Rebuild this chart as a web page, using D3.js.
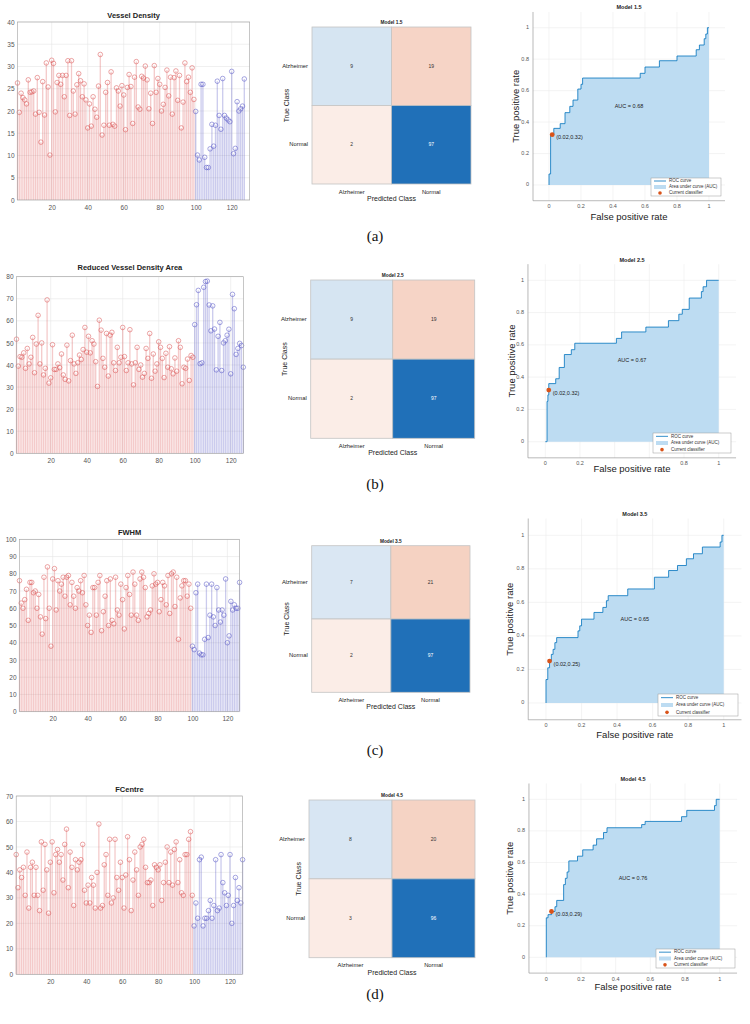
<!DOCTYPE html>
<html>
<head>
<meta charset="utf-8">
<script src="https://cdn.jsdelivr.net/npm/d3@7"></script>
<style>
  body { margin: 0; background: #fff; }
  svg { display: block; font-family: "Liberation Sans", Arial, sans-serif; }
</style>
</head>
<body>
<svg id="fig" width="750" height="1024"></svg>
<script>
    // ---- data ----
    const stemTitles = ["Vessel Density", "Reduced Vessel Density Area", "FWHM", "FCentre"];
    const modelTitles = ["Model 1.5", "Model 2.5", "Model 3.5", "Model 4.5"];
    const captions = ["(a)", "(b)", "(c)", "(d)"];
    const classNames = ["Alzheimer", "Normal"];
    const firstAlzIndex = 100;   // samples 1..99 normal (red), 100..127 Alzheimer (blue)
    const stemXTicks = [20, 40, 60, 80, 100, 120];
    const stemYMax = [40, 80, 100, 70];
    const stemYStep = [5, 10, 10, 10];
    const rocTicks = [0, 0.2, 0.4, 0.6, 0.8, 1];

    const vesselDensity = [
        26.3, 19.7, 24, 23, 22.5, 21.6, 27, 24.2, 24.3, 24.5, 19.3, 27.5, 19.7, 13, 26.6, 19.1, 30.8, 25.4, 10.1, 31.4,
        30.7, 19.8, 26.4, 28, 26, 28, 23.2, 28, 31.3, 19, 31.3, 24.5, 19.3, 25.9, 28.4, 26.8, 23.2, 26.1, 22.5, 16.2,
        21.6, 16.6, 23.2, 20.4, 18.6, 25.6, 32.7, 14.6, 16.8, 24.2, 26.4, 16.8, 28.8, 17, 16.6, 25.2, 24.5, 21.1, 25.7, 23.6,
        15.8, 25.3, 28.2, 25.5, 17.2, 27.6, 31.1, 20.9, 20.4, 27.8, 27.4, 30.1, 27, 20.5, 24, 17.2, 30.2, 24.2, 27.3, 26,
        20, 21.5, 25.3, 29.2, 23.4, 27.6, 19.3, 27.5, 29, 22.4, 28, 16.2, 22, 30.8, 26.6, 27.6, 24.2, 29.7, 22.6,
        19.9, 10.1, 9, 26, 26, 9.6, 7.3, 7.3, 11.5, 17, 12.1, 16.8, 26.7, 19, 15.9, 27.3, 19, 18.4, 18, 17.6,
        28.9, 10.4, 11.6, 22.1, 20, 20.5, 21.1, 27.2
    ];
    const reducedArea = [
        51.7, 39.5, 43.8, 43.5, 45.5, 38.5, 47.5, 40.5, 43.5, 52.5, 36.5, 49.5, 62.5, 40.5, 50, 35.5, 38.5, 69.5, 31.8, 34.2,
        49.2, 38, 38, 40.5, 38.8, 45, 35.5, 33.5, 49, 32.8, 42, 53.5, 40.5, 36.2, 41, 44.5, 42.5, 47, 57, 45.8,
        53, 45.5, 51, 49.5, 41.5, 30.3, 60.3, 55.8, 43, 39, 54.3, 35, 53.5, 54.8, 41, 37.5, 48, 41, 43.5, 57,
        43.8, 37.5, 41, 56, 40.5, 31, 41, 48, 38, 40, 34.5, 36.2, 47.5, 43, 54.3, 34, 45, 37.2, 40.5, 50.5,
        48, 43, 34.3, 45.3, 39, 48.3, 38.3, 36, 43.2, 37.2, 51, 48, 31.5, 39, 38.5, 42.7, 33, 44.3, 43.5,
        58.3, 67.3, 73.8, 40.6, 41, 75.2, 77.8, 78, 67.2, 55.5, 66.8, 56.3, 37.8, 53, 59.3, 37.5, 50, 51, 53.5, 56.2,
        36, 72, 65.5, 44.8, 47.5, 49.8, 48.8, 39
    ];
    const fwhm = [
        76, 63, 60, 65, 71, 53, 75, 75, 69, 70, 60, 68, 55, 45, 78, 54, 84, 60, 38, 77,
        83, 59, 76, 70, 74, 78, 67, 78, 79, 62, 75, 67, 60, 72, 70, 76, 69, 79, 62, 50,
        56, 46, 72, 72, 56, 75, 79, 47, 58, 67, 76, 50, 77, 53, 51, 78, 59, 56, 74, 65,
        48, 72, 79, 68, 56, 81, 74, 56, 53, 77, 81, 78, 72, 55, 57, 59, 73, 80, 74, 75,
        58, 65, 75, 73, 62, 79, 57, 80, 81, 61, 78, 42, 66, 73, 76, 76, 67, 74, 60,
        38, 36, 69, 74, 34, 33, 33, 42, 74, 43, 56, 74, 55, 50, 72, 59, 52, 59, 56, 77,
        40, 44, 64, 59, 62, 60, 60, 75
    ];
    const fcentre = [
        47, 34, 41, 38, 42, 31, 48, 26, 42, 44, 31, 42, 31, 25, 52, 33, 51, 41, 24, 44,
        52, 32, 47, 49, 44, 47, 37, 51, 57, 34, 48, 42, 27, 45, 41, 44, 45, 51, 33, 28,
        35, 28, 38, 35, 26, 40, 59, 26, 27, 43, 47, 31, 53, 28, 30, 53, 38, 33, 44, 38,
        26, 39, 54, 45, 25, 37, 48, 41, 31, 50, 51, 53, 42, 36, 36, 37, 27, 43, 42, 41,
        43, 29, 36, 44, 50, 36, 48, 35, 49, 52, 36, 45, 32, 31, 47, 47, 53, 56, 31,
        19, 28, 22, 45, 46, 19, 22, 22, 25, 29, 22, 27, 45, 25, 26, 47, 36, 32, 27, 31,
        47, 20, 27, 38, 29, 34, 28, 45
    ];
    const stemSeries = [vesselDensity, reducedArea, fwhm, fcentre];

    // confusion matrices: rows = true class, cols = predicted class
    const confA = [[9, 19], [2, 97]];
    const confB = [[9, 19], [2, 97]];
    const confC = [[7, 21], [2, 97]];
    const confD = [[8, 20], [3, 96]];
    const confusions = [confA, confB, confC, confD];

    // ROC staircases [fpr, tpr]
    const rocA = [[0,0],[0,0.07],[0.01,0.07],[0.01,0.32],[0.03,0.32],[0.03,0.36],[0.07,0.36],[0.07,0.39],[0.10,0.39],[0.10,0.46],
        [0.13,0.46],[0.13,0.50],[0.15,0.50],[0.15,0.54],[0.18,0.54],[0.18,0.61],[0.20,0.61],[0.20,0.64],[0.21,0.64],[0.21,0.68],
        [0.57,0.68],[0.57,0.71],[0.60,0.71],[0.60,0.75],[0.69,0.75],[0.69,0.79],[0.80,0.79],[0.80,0.82],[0.92,0.82],[0.92,0.86],
        [0.94,0.86],[0.94,0.89],[0.97,0.89],[0.97,0.93],[0.98,0.93],[0.98,0.96],[0.99,0.96],[0.99,1],[1,1]];
    const rocB = [[0,0],[0.01,0],[0.01,0.25],[0.015,0.25],[0.015,0.29],[0.02,0.29],[0.02,0.36],[0.06,0.36],[0.06,0.39],[0.08,0.39],
        [0.08,0.46],[0.11,0.46],[0.11,0.54],[0.15,0.54],[0.15,0.57],[0.17,0.57],[0.17,0.61],[0.41,0.61],[0.41,0.64],[0.44,0.64],
        [0.44,0.68],[0.58,0.68],[0.58,0.71],[0.71,0.71],[0.71,0.75],[0.77,0.75],[0.77,0.79],[0.79,0.79],[0.79,0.82],[0.83,0.82],
        [0.83,0.89],[0.90,0.89],[0.90,0.93],[0.91,0.93],[0.91,0.96],[0.93,0.96],[0.93,1],[1,1]];
    const rocC = [[0,0],[0,0.14],[0.01,0.14],[0.01,0.21],[0.02,0.21],[0.02,0.25],[0.03,0.25],[0.03,0.29],[0.04,0.29],[0.04,0.32],
        [0.05,0.32],[0.05,0.36],[0.06,0.36],[0.06,0.39],[0.18,0.39],[0.18,0.43],[0.19,0.43],[0.19,0.46],[0.2,0.46],[0.2,0.5],
        [0.27,0.5],[0.27,0.54],[0.32,0.54],[0.32,0.57],[0.34,0.57],[0.34,0.61],[0.35,0.61],[0.35,0.64],[0.46,0.64],[0.46,0.68],
        [0.61,0.68],[0.61,0.75],[0.69,0.75],[0.69,0.79],[0.74,0.79],[0.74,0.82],[0.79,0.82],[0.79,0.86],[0.83,0.86],[0.83,0.89],
        [0.88,0.89],[0.88,0.93],[0.98,0.93],[0.98,0.96],[0.99,0.96],[0.99,1],[1,1]];
    const rocD = [[0,0],[0,0.25],[0.01,0.25],[0.01,0.27],[0.03,0.27],[0.03,0.29],[0.05,0.29],[0.05,0.32],[0.06,0.32],[0.06,0.36],
        [0.10,0.36],[0.10,0.46],[0.11,0.46],[0.11,0.5],[0.12,0.5],[0.12,0.54],[0.13,0.54],[0.13,0.61],[0.18,0.61],[0.18,0.64],
        [0.21,0.64],[0.21,0.68],[0.27,0.68],[0.27,0.71],[0.29,0.71],[0.29,0.75],[0.33,0.75],[0.33,0.79],[0.35,0.79],[0.35,0.82],
        [0.55,0.82],[0.55,0.84],[0.57,0.84],[0.57,0.86],[0.78,0.86],[0.78,0.89],[0.81,0.89],[0.81,0.93],[0.97,0.93],[0.97,0.96],
        [0.98,0.96],[0.98,1],[1,1]];
    const rocCurves = [rocA, rocB, rocC, rocD];
    const aucValues = [0.68, 0.67, 0.65, 0.76];
    const operatingPoints = [[0.02, 0.32], [0.02, 0.32], [0.02, 0.25], [0.03, 0.29]];

    // ---- layout (pixel positions of each panel) ----
    const stemLayout = [
        { xDom: [1, 130], xr: [17.5, 249.7], yr: [200, 22], titleY: 16 },
        { xDom: [1, 127], xr: [16.5, 243.3], yr: [453.3, 276.7], titleY: 268 },
        { xDom: [1, 127], xr: [19.5, 239.6], yr: [711.7, 539.3], titleY: 533 },
        { xDom: [1, 127], xr: [16.2, 242.6], yr: [974.3, 796], titleY: 790 }
    ];
    const confLayout = [
        { x: 312, y: 27, w: 159, h: 157, tcX: 287 },
        { x: 310.7, y: 280, w: 164, h: 158.3, tcX: 285 },
        { x: 311.7, y: 545.7, w: 158.3, h: 146.6, tcX: 287 },
        { x: 309, y: 800, w: 166, h: 157.7, tcX: 299 }
    ];
    // in panel (b) the x-axis label sits on top of the 0.4 / 0.6 tick labels, which are hidden there
    const rocLayout = [
        { x0: 549, x1: 709, y0: 185, y1: 27.7, titleY: 8, xlabY: 217, ylabX: 516, leg: [651, 178, 70, 18], hide: [] },
        { x0: 545.3, x1: 718.7, y0: 441.7, y1: 280.3, titleY: 261, xlabY: 469, ylabX: 512, leg: [653, 433, 78, 20], hide: [0.4, 0.6] },
        { x0: 546, x1: 723.7, y0: 703, y1: 535.3, titleY: 515, xlabY: 735, ylabX: 510, leg: [658, 694, 80, 22], hide: [] },
        { x0: 546.3, x1: 719.7, y0: 957.3, y1: 799.3, titleY: 780, xlabY: 987, ylabX: 510, leg: [656, 949, 79, 19], hide: [] }
    ];
    const captionY = [238, 486, 752, 996];

    const svg = d3.select("#fig");
    const normalColor = "#d9504f", alzColor = "#5252c4";
    const rocBlue = "#0072bd";

    // ---- stem plots ----
    function stemPlot(values, title, yMax, yStep, L) {
        const g = svg.append("g");
        const x = d3.scaleLinear().domain(L.xDom).range(L.xr);
        const y = d3.scaleLinear().domain([0, yMax]).range(L.yr);
        const yTicks = d3.range(0, yMax + 0.001, yStep);

        // grid
        g.append("g").selectAll("line").data(stemXTicks).join("line")
            .attr("x1", d => x(d)).attr("x2", d => x(d))
            .attr("y1", L.yr[0]).attr("y2", L.yr[1])
            .attr("stroke", "#e6e6e6").attr("stroke-width", 0.6);
        g.append("g").selectAll("line").data(yTicks).join("line")
            .attr("x1", L.xr[0]).attr("x2", L.xr[1])
            .attr("y1", d => y(d)).attr("y2", d => y(d))
            .attr("stroke", "#e6e6e6").attr("stroke-width", 0.6);

        const pts = values.map((v, i) => ({ i: i + 1, v }));
        const col = d => d.i >= firstAlzIndex ? alzColor : normalColor;

        g.append("g").selectAll("line").data(pts).join("line")
            .attr("x1", d => x(d.i)).attr("x2", d => x(d.i))
            .attr("y1", y(0)).attr("y2", d => y(d.v))
            .attr("stroke", col).attr("stroke-opacity", 0.3).attr("stroke-width", 1.3);
        g.append("g").selectAll("circle").data(pts).join("circle")
            .attr("cx", d => x(d.i)).attr("cy", d => y(d.v)).attr("r", 2.3)
            .attr("fill", "none").attr("stroke", col).attr("stroke-opacity", 0.85).attr("stroke-width", 0.6);

        // box
        g.append("rect")
            .attr("x", L.xr[0]).attr("y", L.yr[1])
            .attr("width", L.xr[1] - L.xr[0]).attr("height", L.yr[0] - L.yr[1])
            .attr("fill", "none").attr("stroke", "#a0a0a0").attr("stroke-width", 0.6);

        const ya = g.append("g").attr("transform", `translate(${L.xr[0]},0)`)
            .call(d3.axisLeft(y).tickValues(yTicks).tickSize(0).tickPadding(3));
        const xa = g.append("g").attr("transform", `translate(0,${L.yr[0]})`)
            .call(d3.axisBottom(x).tickValues(stemXTicks).tickSize(0).tickPadding(5));
        [ya, xa].forEach(a => {
            a.select(".domain").remove();
            a.selectAll("text").attr("font-size", 6.5).attr("fill", "#555").attr("font-family", "Liberation Sans, Arial, sans-serif");
        });

        g.append("text")
            .attr("x", (L.xr[0] + L.xr[1]) / 2).attr("y", L.titleY)
            .attr("text-anchor", "middle").attr("dominant-baseline", "middle")
            .attr("font-size", 7.5).attr("font-weight", "bold").attr("fill", "#222")
            .text(title);
    }

    // ---- confusion charts ----
    function confusionChart(m, title, L) {
        const g = svg.append("g");
        const x = d3.scaleBand().domain(classNames).range([L.x, L.x + L.w]);
        const y = d3.scaleBand().domain(classNames).range([L.y, L.y + L.h]);
        const maxV = d3.max(m.flat());
        const cells = [];
        classNames.forEach((t, r) => classNames.forEach((p, c) => cells.push({ t, p, v: m[r][c], diag: r === c })));
        const shade = d => {
            const k = 0.1 + 0.9 * d.v / maxV;
            return d.diag ? d3.interpolateRgb("#ffffff", "#2070b8")(k) : d3.interpolateRgb("#ffffff", "#d9541a")(k * 0.9);
        };

        g.selectAll("rect.cell").data(cells).join("rect")
            .attr("x", d => x(d.p)).attr("y", d => y(d.t))
            .attr("width", x.bandwidth()).attr("height", y.bandwidth())
            .attr("fill", shade).attr("stroke", "#c4c4c4").attr("stroke-width", 0.8);
        g.selectAll("text.val").data(cells).join("text")
            .attr("x", d => x(d.p) + x.bandwidth() / 2).attr("y", d => y(d.t) + y.bandwidth() / 2)
            .attr("text-anchor", "middle").attr("dominant-baseline", "middle")
            .attr("font-size", 5).attr("fill", d => d.v / maxV > 0.5 ? "#fff" : "#333")
            .text(d => d.v);

        g.selectAll("text.rl").data(classNames).join("text")
            .attr("x", L.x - 4).attr("y", d => y(d) + y.bandwidth() / 2)
            .attr("text-anchor", "end").attr("dominant-baseline", "middle")
            .attr("font-size", 5.8).attr("fill", "#222").text(d => d);
        g.selectAll("text.cl").data(classNames).join("text")
            .attr("x", d => x(d) + x.bandwidth() / 2).attr("y", L.y + L.h + 8)
            .attr("text-anchor", "middle").attr("dominant-baseline", "middle")
            .attr("font-size", 5.8).attr("fill", "#222").text(d => d);

        g.append("text")
            .attr("x", L.x + L.w / 2).attr("y", L.y + L.h + 15)
            .attr("text-anchor", "middle").attr("dominant-baseline", "middle")
            .attr("font-size", 7).attr("fill", "#222").text("Predicted Class");
        g.append("text")
            .attr("transform", `translate(${L.tcX},${L.y + L.h / 2}) rotate(-90)`)
            .attr("text-anchor", "middle").attr("dominant-baseline", "middle")
            .attr("font-size", 7).attr("fill", "#222").text("True Class");
        g.append("text")
            .attr("x", L.x + L.w / 2).attr("y", L.y - 3)
            .attr("text-anchor", "middle")
            .attr("font-size", 4.8).attr("font-weight", "bold").attr("fill", "#222").text(title);
    }

    // ---- ROC curves ----
    function rocPlot(pts, auc, op, title, L) {
        const g = svg.append("g");
        const x = d3.scaleLinear().domain([0, 1]).range([L.x0, L.x1]);
        const y = d3.scaleLinear().domain([0, 1]).range([L.y0, L.y1]);
        const bx0 = x(-0.1), bx1 = x(1.1), by0 = y(-0.1), by1 = y(1.1);

        g.append("g").selectAll("line").data(rocTicks).join("line")
            .attr("x1", d => x(d)).attr("x2", d => x(d)).attr("y1", by0).attr("y2", by1)
            .attr("stroke", "#ececec").attr("stroke-width", 0.6);
        g.append("g").selectAll("line").data(rocTicks).join("line")
            .attr("x1", bx0).attr("x2", bx1).attr("y1", d => y(d)).attr("y2", d => y(d))
            .attr("stroke", "#ececec").attr("stroke-width", 0.6);

        g.append("path").datum(pts)
            .attr("d", d3.area().x(d => x(d[0])).y0(y(0)).y1(d => y(d[1])))
            .attr("fill", "#bddcf2");
        g.append("path").datum(pts)
            .attr("d", d3.line().x(d => x(d[0])).y(d => y(d[1])))
            .attr("fill", "none").attr("stroke", rocBlue).attr("stroke-width", 0.8);

        g.append("circle").attr("cx", x(op[0])).attr("cy", y(op[1])).attr("r", 2.4).attr("fill", "#d95319");
        g.append("text").attr("x", x(op[0]) + 4).attr("y", y(op[1]) + 3)
            .attr("dominant-baseline", "middle").attr("font-size", 5.5).attr("fill", "#222")
            .text(`(${op[0].toFixed(2)},${op[1].toFixed(2)})`);
        g.append("text").attr("x", x(0.5)).attr("y", y(0.5))
            .attr("text-anchor", "middle").attr("dominant-baseline", "middle")
            .attr("font-size", 5.5).attr("fill", "#222").text(`AUC = ${auc.toFixed(2)}`);

        // axes: left + bottom only
        g.append("line").attr("x1", bx0).attr("x2", bx0).attr("y1", by0).attr("y2", by1).attr("stroke", "#8a8a8a").attr("stroke-width", 0.6);
        g.append("line").attr("x1", bx0).attr("x2", bx1).attr("y1", by0).attr("y2", by0).attr("stroke", "#8a8a8a").attr("stroke-width", 0.6);
        const fmt = d => d === 0 || d === 1 ? String(d) : d.toFixed(1);
        g.append("g").selectAll("text").data(rocTicks).join("text")
            .attr("x", bx0 - 4).attr("y", d => y(d)).attr("text-anchor", "end").attr("dominant-baseline", "middle")
            .attr("font-size", 5.5).attr("fill", "#555").text(fmt);
        g.append("g").selectAll("text").data(rocTicks.filter(d => !L.hide.includes(d))).join("text")
            .attr("x", d => x(d)).attr("y", by0 + 6).attr("text-anchor", "middle").attr("dominant-baseline", "middle")
            .attr("font-size", 5.5).attr("fill", "#555").text(fmt);

        g.append("text").attr("x", (bx0 + bx1) / 2).attr("y", L.xlabY)
            .attr("text-anchor", "middle").attr("dominant-baseline", "middle")
            .attr("font-size", 9.5).attr("fill", "#222").text("False positive rate");
        g.append("text").attr("transform", `translate(${L.ylabX},${(by0 + by1) / 2}) rotate(-90)`)
            .attr("text-anchor", "middle").attr("dominant-baseline", "middle")
            .attr("font-size", 9.5).attr("fill", "#222").text("True positive rate");
        g.append("text").attr("x", (bx0 + bx1) / 2).attr("y", L.titleY)
            .attr("text-anchor", "middle").attr("dominant-baseline", "middle")
            .attr("font-size", 5.5).attr("font-weight", "bold").attr("fill", "#222").text(title);

        // legend
        const [lx, ly, lw, lh] = L.leg;
        const lg = g.append("g");
        lg.append("rect").attr("x", lx).attr("y", ly).attr("width", lw).attr("height", lh)
            .attr("fill", "#fff").attr("stroke", "#9a9a9a").attr("stroke-width", 0.5);
        const rowH = lh / 3;
        const items = ["ROC curve", "Area under curve (AUC)", "Current classifier"];
        items.forEach((t, i) => {
            const cy = ly + rowH * (i + 0.5);
            if (i === 0) lg.append("line").attr("x1", lx + 3).attr("x2", lx + 15).attr("y1", cy).attr("y2", cy).attr("stroke", rocBlue).attr("stroke-width", 0.8);
            if (i === 1) lg.append("rect").attr("x", lx + 3).attr("y", cy - 2).attr("width", 12).attr("height", 4).attr("fill", "#bddcf2");
            if (i === 2) lg.append("circle").attr("cx", lx + 9).attr("cy", cy).attr("r", 1.8).attr("fill", "#d95319");
            lg.append("text").attr("x", lx + 18).attr("y", cy).attr("dominant-baseline", "middle")
                .attr("font-size", 4.5).attr("fill", "#333").text(t);
        });
    }

    for (let k = 0; k < 4; k++) {
        stemPlot(stemSeries[k], stemTitles[k], stemYMax[k], stemYStep[k], stemLayout[k]);
        confusionChart(confusions[k], modelTitles[k], confLayout[k]);
        rocPlot(rocCurves[k], aucValues[k], operatingPoints[k], modelTitles[k], rocLayout[k]);
        svg.append("text").attr("x", 375).attr("y", captionY[k])
            .attr("text-anchor", "middle").attr("dominant-baseline", "middle")
            .attr("font-family", "Liberation Serif, Times New Roman, serif").attr("font-size", 15).attr("fill", "#111")
            .text(captions[k]);
    }
</script>
</body>
</html>
